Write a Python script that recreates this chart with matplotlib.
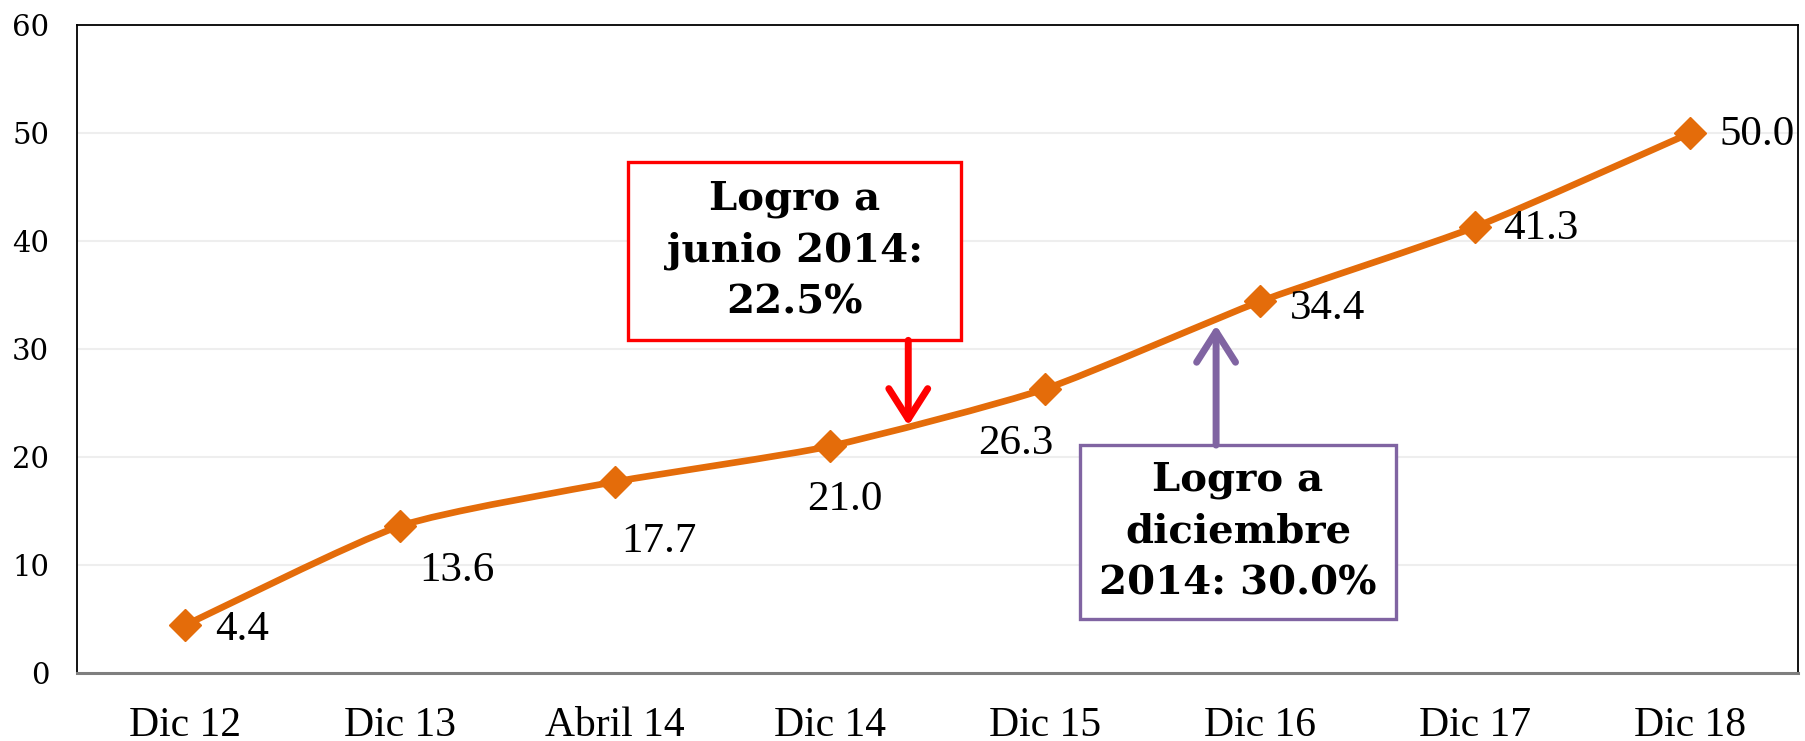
import numpy as np
import matplotlib
matplotlib.use("Agg")
import matplotlib.pyplot as plt
from matplotlib.path import Path
from matplotlib.patches import PathPatch, Rectangle, FancyArrowPatch

# ---- data ----
categories = ["Dic 12", "Dic 13", "Abril 14", "Dic 14", "Dic 15", "Dic 16", "Dic 17", "Dic 18"]
values = [4.4, 13.6, 17.7, 21.0, 26.3, 34.4, 41.3, 50.0]
value_labels = ["4.4", "13.6", "17.7", "21.0", "26.3", "34.4", "41.3", "50.0"]
y_ticks = [0, 10, 20, 30, 40, 50, 60]
note_junio = "Logro a\njunio 2014:\n22.5%"
note_dic = "Logro a\ndiciembre\n2014: 30.0%"

# ---- styling / positions ----
ORANGE = "#E46C0A"
RED = "#FF0000"
PURPLE = "#8064A2"
PX = 0.72  # points per pixel at dpi 100
SMOOTH = 1.0 / 10.0
# label offsets in pixels (dx, dy_down) and alignment
label_off = [(30, 4, "left"), (57, 45, "center"), (44, 60, "center"), (15, 54, "center"),
             (-29, 55, "center"), (30, 7, "left"), (28, 2, "left"), (29, 2, "left")]

fig = plt.figure(figsize=(18.05, 7.41), dpi=100)
ax = fig.add_axes([0.0427, 0.0918, 0.9534, 0.8745])

n = len(values)
xs = np.arange(n)
pts = np.column_stack([xs, values]).astype(float)

# smoothed line (Catmull-Rom style -> cubic Bezier)
verts = [pts[0]]
codes = [Path.MOVETO]
for i in range(n - 1):
    p0 = pts[max(i - 1, 0)]
    p1 = pts[i]
    p2 = pts[i + 1]
    p3 = pts[min(i + 2, n - 1)]
    c1 = p1 + (p2 - p0) * SMOOTH
    c2 = p2 - (p3 - p1) * SMOOTH
    verts += [c1, c2, p2]
    codes += [Path.CURVE4] * 3
ax.add_patch(PathPatch(Path(verts, codes), fill=False, edgecolor=ORANGE, lw=4.8,
                       capstyle="round", joinstyle="round", zorder=3))
ax.plot(xs, values, ls="none", marker="D", ms=16, color=ORANGE, zorder=4)

for xi, v, lab, (dx, dy, ha) in zip(xs, values, value_labels, label_off):
    ax.annotate(lab, (xi, v), xytext=(dx * PX, -dy * PX), textcoords="offset points",
                ha=ha, va="center", fontsize=31, family="Liberation Serif", color="black",
                zorder=6)

ax.set_xlim(-0.5, n - 0.5)
ax.set_ylim(0, 60)
ax.set_yticks(y_ticks)
ax.set_yticklabels([str(t) for t in y_ticks], family="DejaVu Serif", fontsize=21)
ax.set_xticks(xs)
ax.set_xticklabels(categories, family="Liberation Serif", fontsize=30)
ax.tick_params(axis="y", length=0, pad=20)
ax.tick_params(axis="x", length=0, pad=24)

for t in y_ticks[1:-1]:
    ax.axhline(t, color="#EEEEEE", lw=1.5, zorder=1)

for s in ["left", "top", "right"]:
    ax.spines[s].set_color("black")
    ax.spines[s].set_linewidth(1.3)
ax.spines["bottom"].set_color("#7F7F7F")
ax.spines["bottom"].set_linewidth(2.2)

# annotation boxes (axes fraction)
def note(x0, x1, y0, y1, text, color):
    ax.add_patch(Rectangle((x0, y0), x1 - x0, y1 - y0, transform=ax.transAxes,
                           facecolor="white", edgecolor=color, lw=2.4, zorder=7,
                           joinstyle="miter"))
    ax.text((x0 + x1) / 2, (y0 + y1) / 2, text, transform=ax.transAxes, ha="center",
            va="center", fontsize=29, fontweight="bold", family="DejaVu Serif",
            linespacing=1.45, zorder=8, multialignment="center")

note(0.3202, 0.5137, 0.5139, 0.7886, note_junio, RED)
note(0.5828, 0.7664, 0.0833, 0.3519, note_dic, PURPLE)

arrow_style = "->,head_length=1.1,head_width=0.7"
ax.add_patch(FancyArrowPatch((3.364, 30.8), (3.364, 22.9), arrowstyle=arrow_style,
                             mutation_scale=20, color=RED, lw=5, shrinkA=0, shrinkB=0,
                             capstyle="round", joinstyle="round", zorder=9))
ax.add_patch(FancyArrowPatch((4.795, 21.1), (4.795, 32.2), arrowstyle=arrow_style,
                             mutation_scale=20, color=PURPLE, lw=5, shrinkA=0, shrinkB=0,
                             capstyle="round", joinstyle="round", zorder=9))

fig.savefig("out.png", dpi=100, facecolor="white")
